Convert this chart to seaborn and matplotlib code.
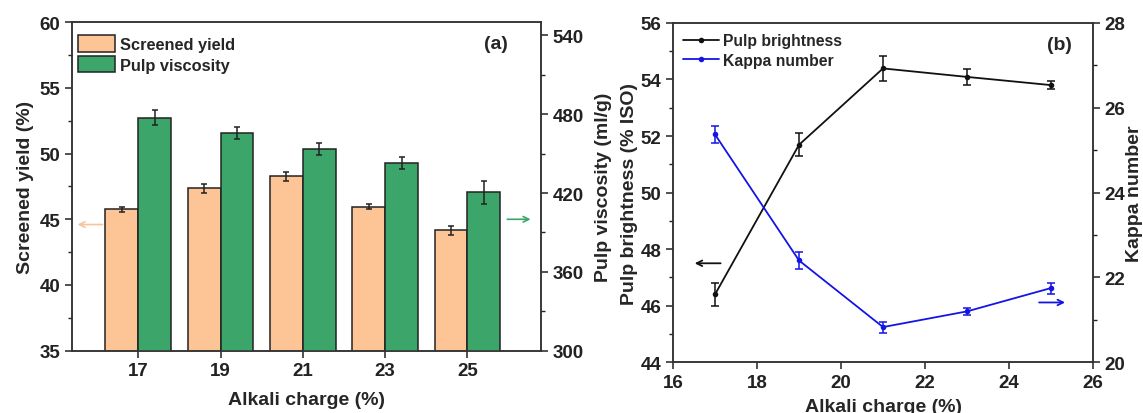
import matplotlib
matplotlib.use('Agg')
import matplotlib.pyplot as plt
import seaborn as sns
import pandas as pd
from matplotlib.patches import Patch
from matplotlib.lines import Line2D
from matplotlib.ticker import MultipleLocator

# valores
alkali = [17, 19, 21, 23, 25]
screened_yield = [45.78, 47.36, 48.27, 45.96, 44.16]
screened_yield_err = [0.19, 0.33, 0.36, 0.18, 0.34]
viscosity = [477.3, 465.7, 453.5, 442.8, 420.5]
viscosity_err = [5.8, 4.4, 4.4, 4.4, 8.5]
brightness = [46.40, 51.69, 54.39, 54.09, 53.80]
brightness_err = [0.42, 0.41, 0.43, 0.29, 0.14]
kappa = [25.37, 22.40, 20.83, 21.20, 21.75]
kappa_err = [0.21, 0.19, 0.13, 0.09, 0.13]

series = ['Screened yield', 'Pulp viscosity']
bar_colors = ['#FDC496', '#3CA66A']
line_names = ['Pulp brightness', 'Kappa number']
line_colors = ['#111111', '#1414E6']

sns.set_style('ticks')
plt.rcParams['font.family'] = ['Liberation Sans', 'DejaVu Sans']
plt.rcParams['font.weight'] = 'bold'
plt.rcParams['axes.labelweight'] = 'bold'
plt.rcParams['axes.edgecolor'] = '#333333'
plt.rcParams['axes.linewidth'] = 1.1

TICK = 13.5
LAB = 14

fig = plt.figure(figsize=(11.43, 4.14), dpi=100)
ax1 = fig.add_axes([0.0633, 0.1505, 0.4098, 0.7935])
ax3 = fig.add_axes([0.5888, 0.1225, 0.3675, 0.8198])

# (a) barras
labels = [str(a) for a in alkali]
df_yield = pd.DataFrame({'charge': labels, 'value': screened_yield, 'series': series[0]})
df_visc = pd.DataFrame({'charge': labels, 'value': viscosity, 'series': series[1]})
pal = dict(zip(series, bar_colors))
opts = dict(x='charge', y='value', hue='series', hue_order=series, order=labels,
            palette=pal, saturation=1, edgecolor='#222222', linewidth=1.1,
            legend=False, width=0.8, errorbar=None, dodge=True)

sns.barplot(data=df_yield, ax=ax1, **opts)
ax2 = ax1.twinx()
sns.barplot(data=df_visc, ax=ax2, **opts)

xs1 = [p.get_x() + p.get_width() / 2 for p in ax1.patches]
xs2 = [p.get_x() + p.get_width() / 2 for p in ax2.patches]
ax1.errorbar(xs1, screened_yield, yerr=screened_yield_err, fmt='none',
             ecolor='#222222', elinewidth=1.1, capsize=2.3, capthick=1.1)
ax2.errorbar(xs2, viscosity, yerr=viscosity_err, fmt='none',
             ecolor='#222222', elinewidth=1.1, capsize=2.5, capthick=1.1)

ax1.set_xlim(-0.8, 4.89)
ax1.set_ylim(35, 60)
ax2.set_ylim(300, 550)
ax1.yaxis.set_major_locator(MultipleLocator(5))
ax1.yaxis.set_minor_locator(MultipleLocator(2.5))
ax2.yaxis.set_major_locator(MultipleLocator(60))
ax2.yaxis.set_minor_locator(MultipleLocator(30))

ax1.set_xlabel('Alkali charge (%)', fontsize=LAB, labelpad=8)
ax1.set_ylabel('Screened yield (%)', fontsize=LAB, labelpad=4)
ax2.set_xlabel('')
ax2.set_ylabel('Pulp viscosity (ml/g)', fontsize=LAB, labelpad=8)

ax1.legend(handles=[Patch(facecolor=c, edgecolor='#222222', linewidth=1.1, label=s)
                    for s, c in zip(series, bar_colors)],
           loc='upper left', bbox_to_anchor=(0.013, 0.96), frameon=False,
           fontsize=11.8, handlelength=2.25, handleheight=1.15, handletextpad=0.3,
           labelspacing=0.25, borderaxespad=0, borderpad=0)

ax1.annotate('', xy=(-0.77, 44.6), xytext=(-0.40, 44.6),
             arrowprops=dict(arrowstyle='->', color='#F9C49A', lw=1.2))
ax1.annotate('', xy=(4.80, 45.0), xytext=(4.45, 45.0),
             arrowprops=dict(arrowstyle='->', color='#3CA66A', lw=1.2))
ax1.text(0.905, 0.935, '(a)', transform=ax1.transAxes, ha='center', va='center', fontsize=LAB)

# (b) linhas
sns.lineplot(x=alkali, y=brightness, ax=ax3, color=line_colors[0], marker='o',
             markersize=4, markeredgewidth=0, linewidth=1.3)
ax3.errorbar(alkali, brightness, yerr=brightness_err, fmt='none',
             ecolor=line_colors[0], elinewidth=1.1, capsize=3, capthick=1.1)
ax4 = ax3.twinx()
sns.lineplot(x=alkali, y=kappa, ax=ax4, color=line_colors[1], marker='o',
             markersize=4, markeredgewidth=0, linewidth=1.3)
ax4.errorbar(alkali, kappa, yerr=kappa_err, fmt='none',
             ecolor=line_colors[1], elinewidth=1.1, capsize=3, capthick=1.1)

ax3.set_xlim(16, 26)
ax3.set_ylim(44, 56)
ax4.set_ylim(20, 28)
ax3.xaxis.set_major_locator(MultipleLocator(2))
ax3.yaxis.set_major_locator(MultipleLocator(2))
ax3.yaxis.set_minor_locator(MultipleLocator(1))
ax4.yaxis.set_major_locator(MultipleLocator(2))
ax4.yaxis.set_minor_locator(MultipleLocator(1))

ax3.set_xlabel('Alkali charge (%)', fontsize=LAB, labelpad=5)
ax3.set_ylabel('Pulp brightness (% ISO)', fontsize=LAB, labelpad=2)
ax4.set_ylabel('Kappa number', fontsize=LAB, labelpad=0)

ax4.legend(handles=[Line2D([], [], color=c, marker='o', markersize=4, markeredgewidth=0,
                           linewidth=1.3, label=n) for n, c in zip(line_names, line_colors)],
           loc='upper left', bbox_to_anchor=(0.023, 0.97), frameon=False,
           fontsize=11.3, handlelength=2.3, handletextpad=0.3,
           labelspacing=0.3, borderaxespad=0, borderpad=0)

ax3.annotate('', xy=(16.45, 47.5), xytext=(17.2, 47.5),
             arrowprops=dict(arrowstyle='->', color='#111111', lw=1.3))
ax4.annotate('', xy=(25.4, 21.41), xytext=(24.65, 21.41),
             arrowprops=dict(arrowstyle='->', color=line_colors[1], lw=1.3))
ax3.text(0.919, 0.935, '(b)', transform=ax3.transAxes, ha='center', va='center', fontsize=LAB)

for ax in (ax1, ax2, ax3, ax4):
    ax.tick_params(which='major', direction='out', length=5, width=1.1,
                   labelsize=TICK, pad=3.5, colors='#222222')
    ax.tick_params(which='minor', direction='out', length=3, width=1.0, colors='#222222')
    for s in ax.spines.values():
        s.set_linewidth(1.1)
        s.set_color('#333333')
    ax.tick_params(axis='x', top=False)

fig.savefig('out.png', dpi=100)
